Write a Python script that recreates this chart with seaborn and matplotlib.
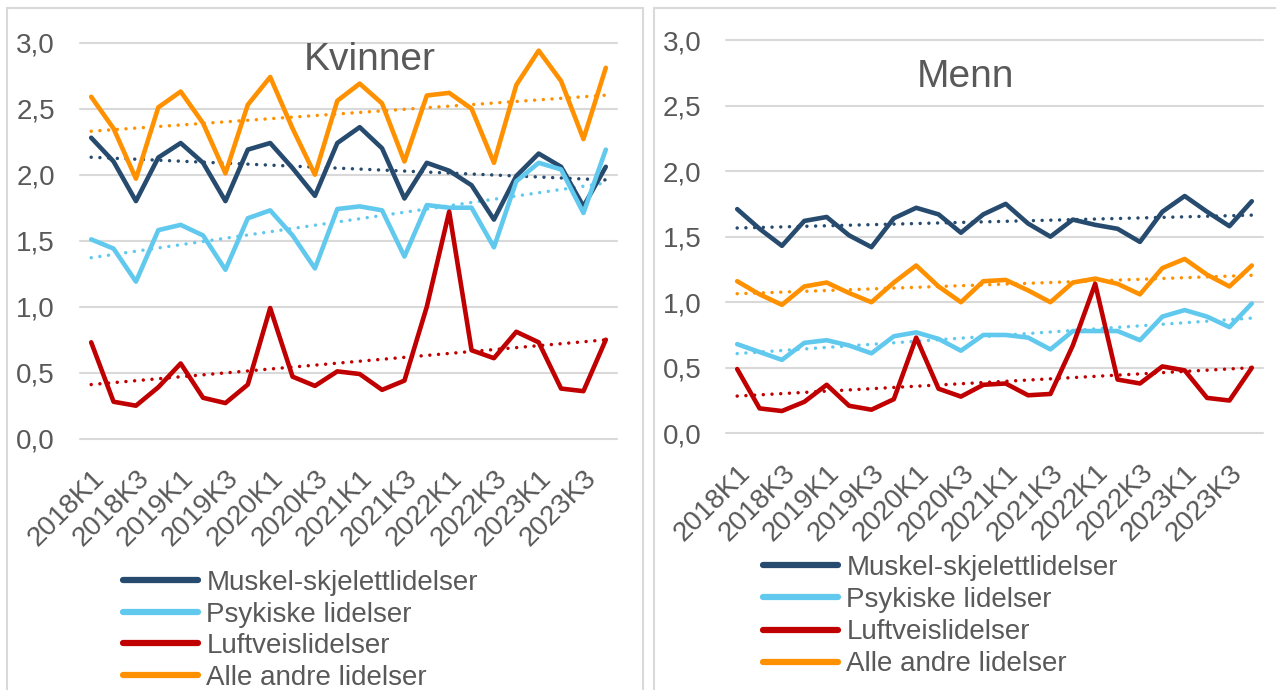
import numpy as np
import pandas as pd
import matplotlib.pyplot as plt
import seaborn as sns
from matplotlib.patches import Rectangle

# kvartaler 2018K1 - 2023K4
kvartaler = [f"{aar}K{k}" for aar in range(2018, 2024) for k in range(1, 5)]
serier = ["Muskel-skjelettlidelser", "Psykiske lidelser", "Luftveislidelser", "Alle andre lidelser"]
farger = ["#264B6E", "#62C9EE", "#C00000", "#FF9100"]

kvinner_muskel = [2.28, 2.10, 1.80, 2.13, 2.24, 2.09, 1.80, 2.19, 2.24, 2.05, 1.84, 2.24,
                  2.36, 2.20, 1.82, 2.09, 2.03, 1.92, 1.66, 1.99, 2.16, 2.06, 1.76, 2.06]
kvinner_psyk = [1.51, 1.44, 1.19, 1.58, 1.62, 1.54, 1.28, 1.67, 1.73, 1.54, 1.29, 1.74,
                1.76, 1.73, 1.38, 1.77, 1.75, 1.75, 1.45, 1.95, 2.09, 2.04, 1.71, 2.19]
kvinner_luft = [0.73, 0.28, 0.25, 0.39, 0.57, 0.31, 0.27, 0.41, 0.99, 0.47, 0.40, 0.51,
                0.49, 0.37, 0.44, 1.00, 1.72, 0.67, 0.61, 0.81, 0.73, 0.38, 0.36, 0.75]
kvinner_andre = [2.59, 2.35, 1.97, 2.51, 2.63, 2.39, 2.01, 2.53, 2.74, 2.35, 2.00, 2.56,
                 2.69, 2.54, 2.10, 2.60, 2.62, 2.50, 2.09, 2.68, 2.94, 2.71, 2.27, 2.81]

menn_muskel = [1.71, 1.56, 1.43, 1.62, 1.65, 1.51, 1.42, 1.64, 1.72, 1.67, 1.53, 1.67,
               1.75, 1.60, 1.50, 1.63, 1.59, 1.56, 1.46, 1.69, 1.81, 1.69, 1.58, 1.77]
menn_psyk = [0.68, 0.62, 0.56, 0.69, 0.71, 0.67, 0.61, 0.74, 0.77, 0.72, 0.63, 0.75,
             0.75, 0.73, 0.64, 0.78, 0.78, 0.78, 0.71, 0.89, 0.94, 0.89, 0.81, 0.99]
menn_luft = [0.49, 0.19, 0.17, 0.24, 0.37, 0.21, 0.18, 0.26, 0.73, 0.34, 0.28, 0.37,
             0.38, 0.29, 0.30, 0.67, 1.14, 0.41, 0.38, 0.51, 0.48, 0.27, 0.25, 0.50]
menn_andre = [1.16, 1.06, 0.98, 1.12, 1.15, 1.07, 1.00, 1.15, 1.28, 1.12, 1.00, 1.16,
              1.17, 1.09, 1.00, 1.15, 1.18, 1.14, 1.06, 1.26, 1.33, 1.21, 1.12, 1.28]

kvinner = [kvinner_muskel, kvinner_psyk, kvinner_luft, kvinner_andre]
menn = [menn_muskel, menn_psyk, menn_luft, menn_andre]

GRA = "#595959"
FONT = 20

sns.set_theme(style="white")
plt.rcParams["font.family"] = ["Liberation Sans", "DejaVu Sans"]


def lag_df(verdier):
    rader = []
    for navn, vals in zip(serier, verdier):
        for i, v in enumerate(vals):
            rader.append({"pos": i, "kvartal": kvartaler[i], "serie": navn, "verdi": v})
    return pd.DataFrame(rader)


def tegn_panel(ax, verdier, tittel, tx, ty, leg_xy, ypad, lsp):
    df = lag_df(verdier)
    sns.lineplot(data=df, x="pos", y="verdi", hue="serie", hue_order=serier,
                 palette=farger, linewidth=3.3, ax=ax, zorder=3)
    for line in ax.get_lines():
        line.set_solid_joinstyle("round")
        line.set_solid_capstyle("round")
    handles, labels = ax.get_legend_handles_labels()
    ax.get_legend().remove()

    # lineære trendlinjer (prikket)
    x = np.arange(len(kvartaler))
    for vals, farge in zip(verdier, farger):
        a, b = np.polyfit(x, vals, 1)
        sns.lineplot(x=x, y=a * x + b, color=farge, linewidth=2.5, ax=ax, zorder=2,
                     linestyle=(0, (0.01, 2.5)), dash_capstyle="round")

    ax.set_xlim(-0.5, len(kvartaler) - 0.5)
    ax.set_ylim(0, 3.0)
    ax.set_yticks(np.arange(0, 3.01, 0.5))
    ax.set_yticklabels([f"{t:.1f}".replace(".", ",") for t in np.arange(0, 3.01, 0.5)])
    ax.set_xticks(x[::2])
    ax.set_xticklabels(kvartaler[::2], rotation=45, ha="right", va="top",
                       rotation_mode="anchor")
    ax.tick_params(axis="y", labelsize=FONT, labelcolor=GRA, length=0, pad=ypad)
    ax.tick_params(axis="x", labelsize=FONT, labelcolor=GRA, length=0, pad=19)
    ax.set_xlabel("")
    ax.set_ylabel("")
    ax.grid(axis="y", color="#D9D9D9", linewidth=1.5, clip_on=False)
    ax.grid(axis="x", visible=False)
    for s in ax.spines.values():
        s.set_visible(False)
    ax.text(tx, ty, tittel, transform=ax.transAxes, ha="center", va="center",
            fontsize=28, color=GRA)

    for h in handles:
        h.set_linewidth(4.5)
        h.set_solid_capstyle("round")
    ax.legend(handles, labels, loc="upper left", bbox_to_anchor=leg_xy,
              bbox_transform=fig.transFigure, frameon=False, fontsize=FONT,
              labelcolor=GRA, handlelength=2.7, handletextpad=0.3,
              labelspacing=lsp, borderpad=0, borderaxespad=0)


fig = plt.figure(figsize=(12.76, 6.9), dpi=100)

# rammer rundt de to panelene
fig.patches.append(Rectangle((7 / 1276, -0.05), (643 - 7) / 1276, 1 - 8 / 690 + 0.05,
                             transform=fig.transFigure, fill=False,
                             edgecolor="#D9D9D9", linewidth=1.5))
fig.patches.append(Rectangle((654 / 1276, -0.05), 0.6, 1 - 8 / 690 + 0.05,
                             transform=fig.transFigure, fill=False,
                             edgecolor="#D9D9D9", linewidth=1.5))

ax1 = fig.add_axes([80 / 1276, 1 - 438.7 / 690, 537 / 1276, 396 / 690])
ax2 = fig.add_axes([726 / 1276, 1 - 433.3 / 690, 537 / 1276, 393.3 / 690])

tegn_panel(ax1, kvinner, "Kvinner", 0.54, 0.956, (123 / 1276, 1 - 570 / 690), 18, 0.2)
tegn_panel(ax2, menn, "Menn", 0.445, 0.906, (763 / 1276, 1 - 555 / 690), 17.5, 0.22)

fig.savefig("out.png", dpi=100)
